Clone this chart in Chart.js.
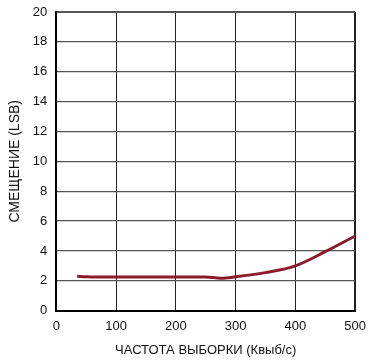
<!DOCTYPE html>
<html>
<head>
<meta charset="utf-8">
<script src="https://cdn.jsdelivr.net/npm/chart.js@4/dist/chart.umd.min.js"></script>
<style>
  html, body { margin: 0; padding: 0; background: #fff; }
  #wrap { width: 369px; height: 361px; }
</style>
</head>
<body>
<div id="wrap"><canvas id="myChart"></canvas></div>
<script>
// sample rate, ksps
const freq = [35, 50, 100, 150, 200, 250, 275, 300, 350, 400, 450, 500];
// offset, LSB
const offset = [2.3, 2.27, 2.25, 2.25, 2.25, 2.25, 2.18, 2.27, 2.55, 3.0, 3.95, 5.0];
const xTicks = [0, 100, 200, 300, 400, 500];
const yTicks = [0, 2, 4, 6, 8, 10, 12, 14, 16, 18, 20];

const fontFam = '"Liberation Sans", Arial, sans-serif';

const ctx = document.getElementById('myChart').getContext('2d');
const myChart = new Chart(ctx, {
    type: 'line',
    data: {
        datasets: [{
            label: 'offset',
            data: freq.map((f, i) => ({ x: f, y: offset[i] })),
            borderColor: '#8b1a2e',
            borderWidth: 3,
            pointRadius: 0,
            cubicInterpolationMode: 'monotone',
            fill: false
        }]
    },
    options: {
        responsive: true,
        maintainAspectRatio: false,
        animation: false,
        layout: { padding: { left: 4, right: 0, top: 0, bottom: 3 } },
        plugins: { legend: { display: false }, tooltip: { enabled: false } },
        scales: {
            x: {
                type: 'linear',
                min: 0, max: 500,
                afterBuildTicks: axis => { axis.ticks = xTicks.map(v => ({ value: v })); },
                ticks: { color: '#111', font: { family: fontFam, size: 13, lineHeight: 1.9 }, padding: 3, maxRotation: 0 },
                grid: {
                    color: '#222',
                    lineWidth: c => (c.tick && c.tick.value === 500) ? 2 : 1,
                    drawTicks: false
                },
                border: { color: '#000', width: 2 },
                title: { display: true, text: 'ЧАСТОТА ВЫБОРКИ (Квыб/с)', color: '#111', font: { family: fontFam, size: 13 }, padding: { top: 1, bottom: 0 } }
            },
            y: {
                min: 0, max: 20,
                afterBuildTicks: axis => { axis.ticks = yTicks.map(v => ({ value: v })); },
                ticks: { color: '#111', font: { family: fontFam, size: 13, lineHeight: 0.45 }, padding: 9 },
                grid: {
                    color: '#555',
                    lineWidth: c => (c.tick && c.tick.value === 20) ? 2 : 1.3,
                    drawTicks: false
                },
                border: { color: '#000', width: 2 },
                title: { display: true, text: 'СМЕЩЕНИЕ (LSB)', color: '#111', font: { family: fontFam, size: 14 }, padding: { top: 3, bottom: 0 } }
            }
        }
    }
});
</script>
</body>
</html>
